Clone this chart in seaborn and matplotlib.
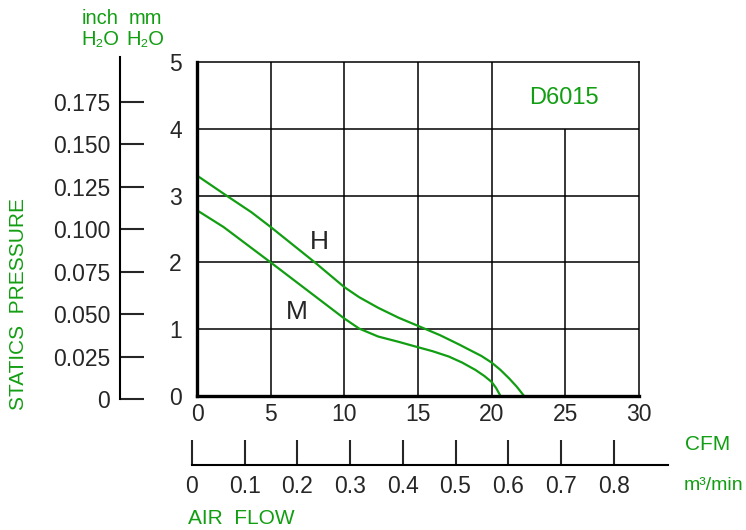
import matplotlib
matplotlib.use('Agg')
import matplotlib.pyplot as plt
import seaborn as sns
import numpy as np

# curve data (CFM vs mm H2O)
h_cfm = [0, 2.0, 3.7, 5, 8, 10, 11, 12.3, 13.7, 15, 16.5, 17.8, 18.5, 19.3, 20, 20.6, 21.2, 21.7, 22.2]
h_mm = [3.30, 3.00, 2.75, 2.53, 2.00, 1.63, 1.48, 1.32, 1.17, 1.05, 0.91, 0.77, 0.69, 0.60, 0.50, 0.39, 0.26, 0.14, 0.0]
m_cfm = [0, 1.8, 5, 7.5, 10, 11, 12.3, 13.7, 15, 16, 17.1, 18, 18.9, 19.5, 20, 20.3, 20.6]
m_mm = [2.78, 2.53, 2.00, 1.58, 1.16, 1.01, 0.89, 0.81, 0.73, 0.67, 0.59, 0.50, 0.39, 0.30, 0.21, 0.12, 0.0]

cfm_ticks = [0, 5, 10, 15, 20, 25, 30]
mm_ticks = [0, 1, 2, 3, 4, 5]
inch_ticks = [0, 0.025, 0.05, 0.075, 0.1, 0.125, 0.15, 0.175]
inch_labels = ['0', '0.025', '0.050', '0.075', '0.100', '0.125', '0.150', '0.175']
m3_ticks = [0, 0.1, 0.2, 0.3, 0.4, 0.5, 0.6, 0.7, 0.8]
m3_labels = ['0', '0.1', '0.2', '0.3', '0.4', '0.5', '0.6', '0.7', '0.8']

green = '#129e12'
W, H = 746, 530
num_size = 16.5

sns.set_style('white')
plt.rcParams['font.family'] = ['Liberation Sans', 'DejaVu Sans']

fig = plt.figure(figsize=(W / 100, H / 100), dpi=100)

def px(x0, y0, x1, y1):
    # pixel box -> figure fraction rect
    return [x0 / W, 1 - y1 / H, (x1 - x0) / W, (y1 - y0) / H]

# main chart
ax = fig.add_axes(px(197, 62, 639, 396))
sns.lineplot(x=h_cfm, y=h_mm, ax=ax, color=green, lw=1.6, sort=False)
sns.lineplot(x=m_cfm, y=m_mm, ax=ax, color=green, lw=1.6, sort=False)
ax.set_xlim(0, 30)
ax.set_ylim(0, 5)
ax.set_xticks(cfm_ticks)
ax.set_yticks(mm_ticks)
ax.tick_params(axis='both', length=0, labelsize=num_size)
ax.tick_params(axis='y', pad=11)
ax.tick_params(axis='x', pad=5)
for s in ['left', 'bottom']:
    ax.spines[s].set_linewidth(2.4)
    ax.spines[s].set_color('black')
for s in ['top', 'right']:
    ax.spines[s].set_linewidth(1.1)
    ax.spines[s].set_color('black')
ax.grid(False)
for yv in mm_ticks[1:-1]:
    ax.axhline(yv, color='black', lw=1.1, zorder=1)
for xv in cfm_ticks[1:-2]:
    ax.axvline(xv, color='black', lw=1.1, zorder=1)
ax.vlines(cfm_ticks[-2], 0, 4, color='black', lw=1.1, zorder=1)
ax.text(8.3, 2.30, 'H', fontsize=19, ha='center', va='center')
ax.text(6.8, 1.26, 'M', fontsize=19, ha='center', va='center')
ax.text(24.9, 4.46, 'D6015', fontsize=17, color=green, ha='center', va='center')

# inch H2O scale on the left
ax_in = fig.add_axes(px(120, 57, 120.1, 399))
ax_in.set_ylim(0, 342 / (25.4 * 66.8))
ax_in.set_yticks(inch_ticks)
ax_in.set_yticklabels(inch_labels)
ax_in.set_xticks([])
for s in ['top', 'right', 'bottom']:
    ax_in.spines[s].set_visible(False)
ax_in.spines['left'].set_linewidth(1.5)
ax_in.spines['left'].set_color('black')
ax_in.tick_params(axis='y', direction='in', length=17, width=1.5, labelsize=num_size, pad=7, left=True)
ax_in.patch.set_alpha(0)

# m3/min scale below
ax_m = fig.add_axes(px(192, 464.9, 668, 465))
ax_m.set_xlim(0, 476 / 527)
ax_m.set_xticks(m3_ticks)
ax_m.set_xticklabels(m3_labels)
ax_m.set_yticks([])
for s in ['top', 'right', 'left']:
    ax_m.spines[s].set_visible(False)
ax_m.spines['bottom'].set_linewidth(1.5)
ax_m.spines['bottom'].set_color('black')
ax_m.tick_params(axis='x', direction='in', length=18, width=1.5, labelsize=num_size, pad=7, bottom=True)
ax_m.patch.set_alpha(0)

# green labels
def ftext(x, y, s, size=14.5, **kw):
    fig.text(x / W, 1 - y / H, s, color=green, fontsize=size, **kw)

ftext(100, 29, 'inch\nH\u2082O', ha='center', va='center', linespacing=1.15)
ftext(145, 29, 'mm\nH\u2082O', ha='center', va='center', linespacing=1.15)
ftext(19, 304, 'STATICS  PRESSURE', size=15, rotation=90, ha='center', va='center')
ftext(685, 444, 'CFM', size=15, ha='left', va='center')
ftext(684, 486, 'm\u00b3/min', size=14, ha='left', va='center')
ftext(188, 518, 'AIR  FLOW', size=15, ha='left', va='center')

fig.savefig('out.png', dpi=100)
